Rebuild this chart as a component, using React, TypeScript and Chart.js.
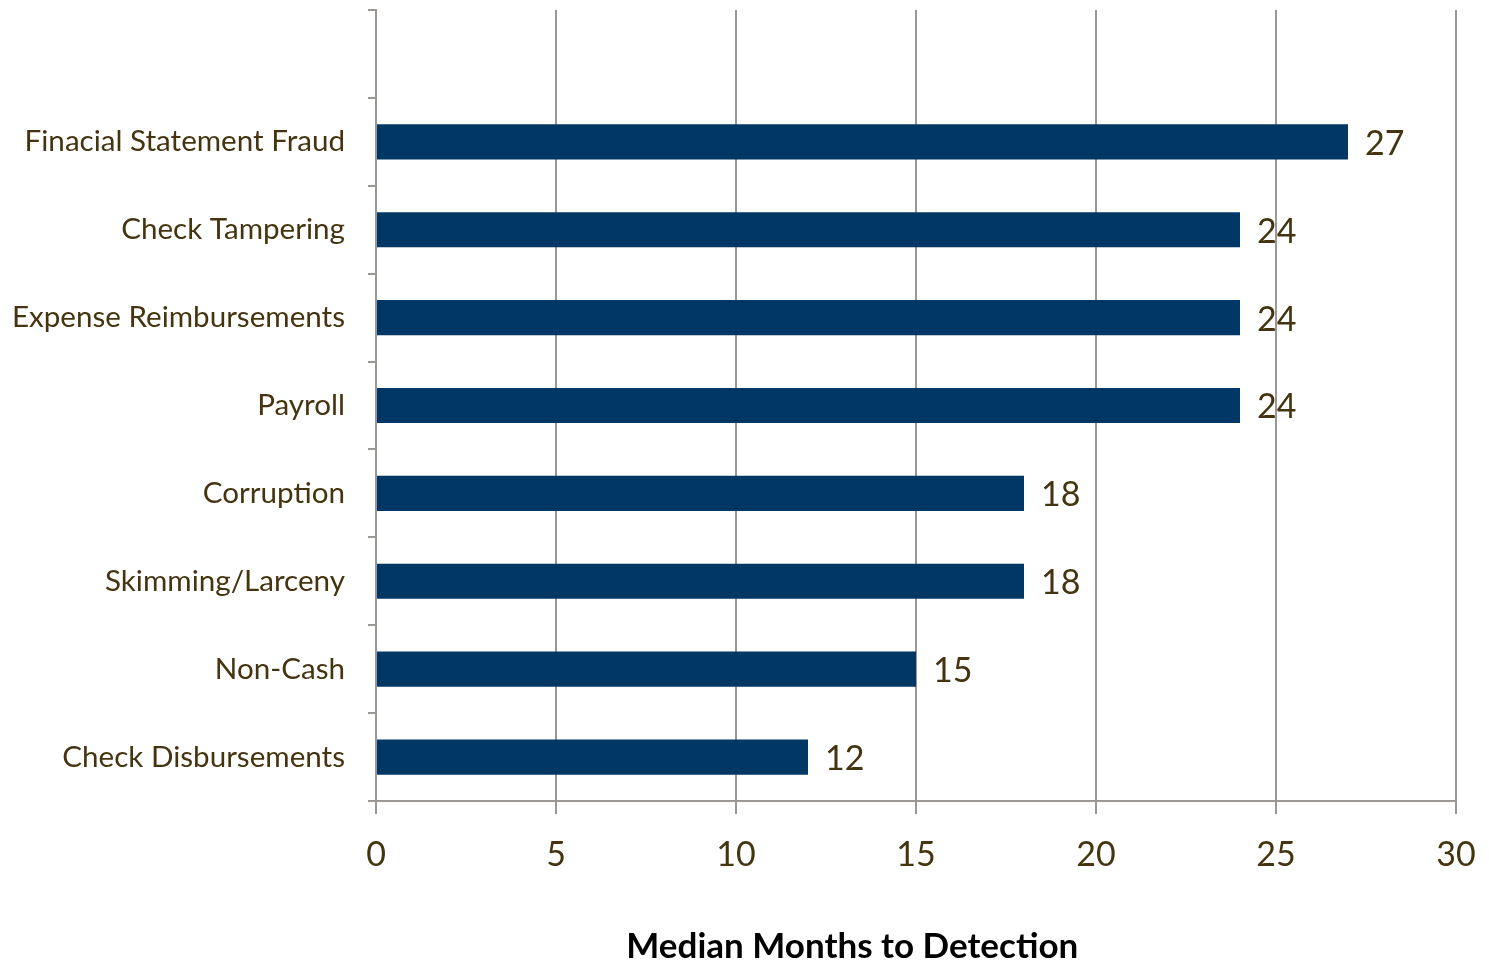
import React, { useEffect, useRef } from "react";
import { Chart, registerables } from "chart.js";

Chart.register(...registerables);

const categories: string[] = [
  "",
  "Finacial Statement Fraud",
  "Check Tampering",
  "Expense Reimbursements",
  "Payroll",
  "Corruption",
  "Skimming/Larceny",
  "Non-Cash",
  "Check Disbursements",
];
const medianMonths: (number | null)[] = [null, 27, 24, 24, 24, 18, 18, 15, 12];
const xMin = 0;
const xMax = 30;
const xStep = 5;
const axisTitle = "Median Months to Detection";

const BAR = "#003764";
const TEXT = "#443410";
const GRID = "#9b9794";
const FONT = "Lato, 'Open Sans', sans-serif";

export default function App() {
  const ref = useRef<HTMLCanvasElement | null>(null);
  useEffect(() => {
    if (!ref.current) return;
    const labelPlugin = {
      id: "valueLabels",
      afterDatasetsDraw(chart: any) {
        const ctx = chart.ctx;
        const meta = chart.getDatasetMeta(0);
        ctx.save();
        ctx.fillStyle = TEXT;
        ctx.font = `34px ${FONT}`;
        ctx.textAlign = "left";
        ctx.textBaseline = "middle";
        meta.data.forEach((el: any, i: number) => {
          const v = medianMonths[i];
          if (v == null) return;
          ctx.fillText(String(v), el.x + 17, el.y + 2);
        });
        ctx.restore();
      },
      afterDraw(chart: any) {
        const ctx = chart.ctx;
        const a = chart.chartArea;
        ctx.save();
        ctx.fillStyle = "#000000";
        ctx.font = `bold 35px ${FONT}`;
        ctx.textAlign = "center";
        ctx.textBaseline = "middle";
        ctx.fillText(axisTitle, a.left + (a.right - a.left) * 0.441, 947);
        ctx.restore();
      },
    };
    const chart = new Chart(ref.current, {
      type: "bar",
      data: {
        labels: categories,
        datasets: [
          {
            data: medianMonths as any,
            backgroundColor: BAR,
            borderWidth: 0,
            barPercentage: 0.8,
            categoryPercentage: 0.5,
          },
        ],
      },
      options: {
        indexAxis: "y",
        animation: false,
        responsive: false,
        layout: { padding: { top: 10, right: 33, left: 0, bottom: 0 } },
        plugins: {
          legend: { display: false },
          tooltip: { enabled: false },
          title: { display: false },
        },
        scales: {
          x: {
            min: xMin,
            max: xMax,
            ticks: {
              stepSize: xStep,
              color: TEXT,
              font: { family: FONT, size: 34 },
              padding: 21,
            },
            grid: {
              color: GRID,
              lineWidth: 2,
              tickLength: 13,
              drawTicks: true,
            },
            border: { display: true, color: GRID, width: 2 },
            afterFit(scale: any) {
              scale.height = 160;
              scale.paddingLeft = 0;
              scale.paddingRight = 0;
            },
          },
          y: {
            type: "category",
            ticks: {
              color: TEXT,
              font: { family: FONT, size: 29.6 },
              padding: 23,
              autoSkip: false,
            },
            grid: {
              offset: true,
              drawOnChartArea: false,
              drawTicks: true,
              tickLength: 8,
              color: GRID,
              lineWidth: 2,
            },
            border: { display: true, color: GRID, width: 2 },
            afterFit(scale: any) {
              scale.width = 376;
              scale.paddingTop = 0;
              scale.paddingBottom = 0;
            },
          },
        },
      },
      plugins: [labelPlugin],
    });
    return () => chart.destroy();
  }, []);
  return (
    <div style={{ position: "fixed", left: 0, top: 0, width: 1489, height: 961, background: "#fff" }}>
      <canvas ref={ref} width={1489} height={961} style={{ width: 1489, height: 961 }} />
    </div>
  );
}
